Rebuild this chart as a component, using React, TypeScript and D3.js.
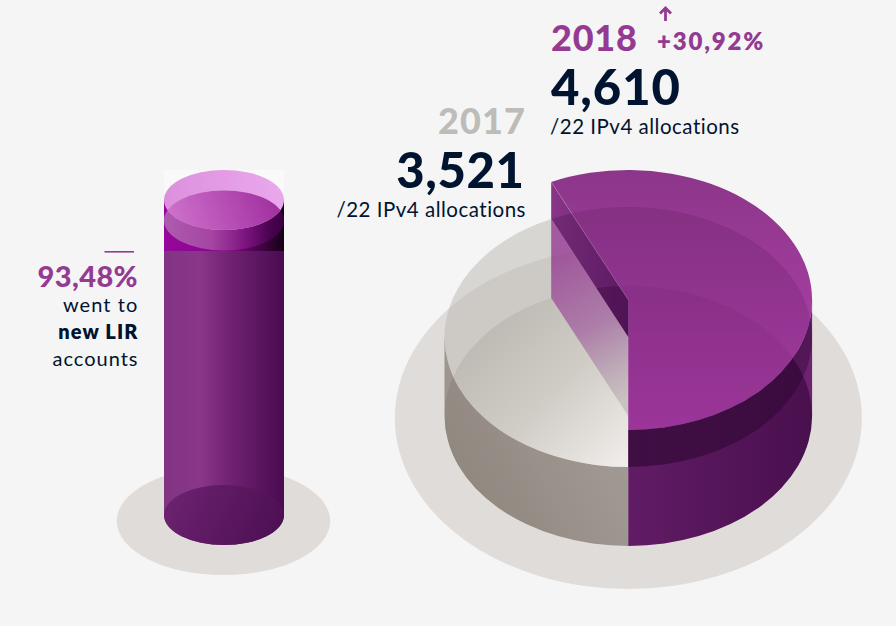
import React from "react";
import * as d3 from "d3";

const years = ["2017", "2018"];
const allocations = [3521, 4610];
const allocationLabels = ["3,521", "4,610"];
const growthLabel = "+30,92%";
const unitLabel = "/22 IPv4 allocations";
const newLirShare = 93.48;
const shareLabel = "93,48%";
const shareLines = ["went to", "new LIR", "accounts"];

const PURPLE = "#943a92";
const NAVY = "#001430";
const FONT = "Lato, 'Open Sans', sans-serif";

// projection of the big pie
const cx = 628.3, rx = 183.8, ry = 130, floorY = 416;
const heightScale = d3.scaleLinear().domain(allocations).range([79, 116]);
const grayTop = floorY - heightScale(allocations[0]);
const purpleTop = floorY - heightScale(allocations[1]);
const cutAngle = d3.scaleLinear().domain([0, 360]).range([0, 2 * Math.PI])(-24.8);

const pt = (cy: number, a: number) => [cx + rx * Math.sin(a), cy - ry * Math.cos(a)];
const sector = (cy: number, a0: number, a1: number) => {
  const [x0, y0] = pt(cy, a0);
  const [x1, y1] = pt(cy, a1);
  const large = Math.abs(a1 - a0) > Math.PI ? 1 : 0;
  return `M${cx},${cy}L${x0},${y0}A${rx},${ry} 0 ${large} 1 ${x1},${y1}Z`;
};
const [cutX, cutDy] = pt(0, cutAngle);

// cylinder
const cylX = 224, cylRx = 60, cylRy = 30, cylBase = 515, cylFull = 200;
const cylScale = d3.scaleLinear().domain([0, 100]).range([cylBase, cylFull]);
const cylFill = cylScale(newLirShare);
const cylCut = Math.ceil(cylFill + cylRy);

const Grad = ({ id, x1, y1, x2, y2, stops }: any) => (
  <linearGradient id={id} gradientUnits="userSpaceOnUse" x1={x1} y1={y1} x2={x2} y2={y2}>
    {stops.map(([o, c, a]: any, i: number) => (
      <stop key={i} offset={o} stopColor={c} stopOpacity={a ?? 1} />
    ))}
  </linearGradient>
);

export default function App() {
  const topSector = sector(purpleTop, cutAngle, Math.PI);
  const sideWall = `M${cx + rx},${purpleTop}A${rx},${ry} 0 0 1 ${cx},${purpleTop + ry}L${cx},${floorY + ry}A${rx},${ry} 0 0 0 ${cx + rx},${floorY}Z`;
  const cutUpper = `M${cutX},${purpleTop + cutDy}L${cx},${purpleTop}L${cx},${grayTop}L${cutX},${grayTop + cutDy}Z`;
  const cutLower = `M${cutX},${grayTop + cutDy}L${cx},${grayTop}L${cx},${floorY}L${cutX},${floorY + cutDy}Z`;
  const grayWall = `M${cx - rx},${grayTop}A${rx},${ry} 0 0 0 ${cx},${grayTop + ry}L${cx},${floorY + ry}A${rx},${ry} 0 0 1 ${cx - rx},${floorY}Z`;
  const grayTopFace = sector(grayTop, Math.PI, 2 * Math.PI + cutAngle);
  const grayFloor = sector(floorY, Math.PI, 2 * Math.PI + cutAngle);
  const cylL = cylX - cylRx, cylR = cylX + cylRx;
  const cylBody = `M${cylL},${cylCut}H${cylR}V${cylBase}A${cylRx},${cylRy} 0 0 1 ${cylL},${cylBase}Z`;
  const cylStrip = `M${cylL},${cylFull}H${cylR}V${cylCut + 1}H${cylL}Z`;

  return (
    <svg width={896} height={626} style={{ position: "absolute", left: 0, top: 0 }} fontFamily={FONT}>
      <defs>
        <clipPath id="c337"><ellipse cx={cx} cy={grayTop} rx={rx} ry={ry} /></clipPath>
        <clipPath id="c416"><ellipse cx={cx} cy={floorY} rx={rx} ry={ry} /></clipPath>
        <clipPath id="cGrayWall"><path d={grayWall} /></clipPath>
        <clipPath id="cFace"><path d={grayTopFace} /></clipPath>
        <clipPath id="cCylTop"><ellipse cx={cylX} cy={cylFull} rx={cylRx} ry={cylRy} /></clipPath>
        <Grad id="gTop" x1={0} y1={170} x2={0} y2={430} stops={[[0, "#8c3689"], [1, "#b642b2"]]} />
        <Grad id="gSideOv" x1={cx} y1={0} x2={cx + rx} y2={0} stops={[[0, "#2a0030", 0.2], [1, "#2a0030", 0.55]]} />
        <Grad id="gBothOv" x1={cx} y1={0} x2={cx + rx} y2={0} stops={[[0, "#1e0022", 0.5], [1, "#1e0022", 0.34]]} />
        <Grad id="gCutU" x1={cutX} y1={0} x2={cx} y2={0} stops={[[0, "#873587"], [1, "#6c2170"]]} />
        <Grad id="gCutL" x1={552} y1={258} x2={628} y2={398} stops={[[0, "#8a1f88", 0.68], [0.5, "#8a2a88", 0.48], [1, "#8a4a8a", 0.06]]} />
        <Grad id="gWall" x1={460} y1={520} x2={625} y2={440} stops={[[0, "#978f86"], [1, "#aea8a2"]]} />
        <Grad id="gFloor" x1={490} y1={320} x2={625} y2={460} stops={[[0, "#bdb9b3"], [0.5, "#d0cdc7"], [1, "#efece9"]]} />
        <Grad id="gBody" x1={cylL} y1={0} x2={cylR} y2={0} stops={[[0, "#813483"], [0.3, "#8a3689"], [0.55, "#702272"], [1, "#4a0b50"]]} />
        <Grad id="gBase" x1={170} y1={490} x2={280} y2={540} stops={[[0, "#6c2270"], [1, "#4c0f52"]]} />
        <Grad id="gStrip" x1={cylL} y1={0} x2={cylR} y2={0} stops={[[0, "#96089a"], [0.55, "#86078a"], [0.8, "#450345"], [1, "#160016"]]} />
        <Grad id="gCres" x1={cylL} y1={0} x2={cylR} y2={0} stops={[[0, "#ad5cb0"], [0.4, "#a544a3"], [0.68, "#7c1480"], [0.88, "#4a0350"], [1, "#3a0040"]]} />
        <Grad id="gCap" x1={cylL} y1={200} x2={cylR} y2={190} stops={[[0, "#dc90dc"], [1, "#eaa8ec"]]} />
        <Grad id="gLens" x1={175} y1={225} x2={275} y2={190} stops={[[0, "#cd6fcb"], [1, "#a02f9f"]]} />
      </defs>

      <rect width={896} height={626} fill="#f5f5f5" />

      {/* cylinder */}
      <ellipse cx={223.5} cy={521} rx={106.7} ry={54} fill="#dfdcd9" />
      <rect x={cylL} y={170} width={cylRx * 2} height={30} fill="#f9f9f9" />
      <path d={cylStrip} fill="url(#gStrip)" />
      <path d={cylBody} fill="url(#gBody)" />
      <ellipse cx={cylX} cy={cylBase} rx={cylRx} ry={cylRy} fill="url(#gBase)" />
      <ellipse cx={cylX} cy={cylFill} rx={cylRx} ry={cylRy} fill="url(#gCres)" />
      <ellipse cx={cylX} cy={cylFull} rx={cylRx} ry={cylRy} fill="url(#gCap)" />
      <g clipPath="url(#cCylTop)">
        <ellipse cx={cylX} cy={cylFill} rx={cylRx} ry={cylRy} fill="url(#gLens)" />
      </g>

      {/* pie: floor, 2017 volume */}
      <ellipse cx={cx} cy={418} rx={233.5} ry={171} fill="#dfdcd9" />
      <path d={grayTopFace} fill="#bdbbb5" fillOpacity={0.55} />
      <path d={grayWall} fill="url(#gWall)" />
      <g clipPath="url(#cGrayWall)">
        <ellipse cx={cx} cy={floorY} rx={rx} ry={ry} fill="#5a5048" fillOpacity={0.14} />
      </g>
      <g clipPath="url(#cFace)">
        <path d={grayFloor} fill="url(#gFloor)" />
      </g>

      {/* pie: 2018 volume */}
      <path d={cutLower} fill="url(#gCutL)" />
      <path d={sideWall} fill="#6f2272" />
      <path d={topSector} fill="url(#gTop)" />
      <path d={cutUpper} fill="url(#gCutU)" />
      <g clipPath="url(#c337)">
        <path d={topSector} fill="#3a0a40" fillOpacity={0.14} />
        <path d={cutUpper} fill="#2a0030" fillOpacity={0.2} />
      </g>
      <g clipPath="url(#c416)">
        <path d={topSector} fill="#3a0a40" fillOpacity={0.08} />
        <path d={cutUpper} fill="#2a0030" fillOpacity={0.28} />
        <path d={sideWall} fill="url(#gSideOv)" />
      </g>
      <g clipPath="url(#c337)">
        <path d={sideWall} fill="url(#gBothOv)" />
      </g>
      <line x1={cutX} y1={purpleTop + cutDy} x2={cx} y2={purpleTop} stroke="#ffffff" strokeOpacity={0.22} strokeWidth={0.6} />

      {/* labels */}
      <text x={551} y={50.5} fontSize={36} fontWeight={900} letterSpacing={0.8} fill={PURPLE}>{years[1]}</text>
      <text x={657} y={50} fontSize={24} fontWeight={800} letterSpacing={1.8} fill={PURPLE}>{growthLabel}</text>
      <path d="M665.5,21V8.5M660,13.5L665.5,8L671,13.5" fill="none" stroke={PURPLE} strokeWidth={2.8} />
      <text x={551} y={105} fontSize={49} fontWeight={900} letterSpacing={0.9} fill={NAVY}>{allocationLabels[1]}</text>
      <text x={550} y={134} fontSize={20.5} fontWeight={400} letterSpacing={0.5} fill={NAVY}>{unitLabel}</text>

      <text x={526} y={134} textAnchor="end" fontSize={36} fontWeight={900} letterSpacing={1.1} fill="#bdbcb9">{years[0]}</text>
      <text x={524.5} y={188} textAnchor="end" fontSize={49} fontWeight={900} letterSpacing={0.6} fill={NAVY}>{allocationLabels[0]}</text>
      <text x={526} y={216.5} textAnchor="end" fontSize={20.5} fontWeight={400} letterSpacing={0.5} fill={NAVY}>{unitLabel}</text>

      <rect x={104.5} y={251} width={29.5} height={1.6} fill={PURPLE} />
      <text x={138} y={286.5} textAnchor="end" fontSize={29} fontWeight={900} letterSpacing={0.4} fill={PURPLE}>{shareLabel}</text>
      <text x={138.5} y={311.5} textAnchor="end" fontSize={20} fontWeight={400} letterSpacing={1.1} fill={NAVY}>{shareLines[0]}</text>
      <text x={138.5} y={338.5} textAnchor="end" fontSize={20} fontWeight={800} letterSpacing={1.1} fill={NAVY}>{shareLines[1]}</text>
      <text x={138.5} y={365.5} textAnchor="end" fontSize={20} fontWeight={400} letterSpacing={1} fill={NAVY}>{shareLines[2]}</text>
    </svg>
  );
}
